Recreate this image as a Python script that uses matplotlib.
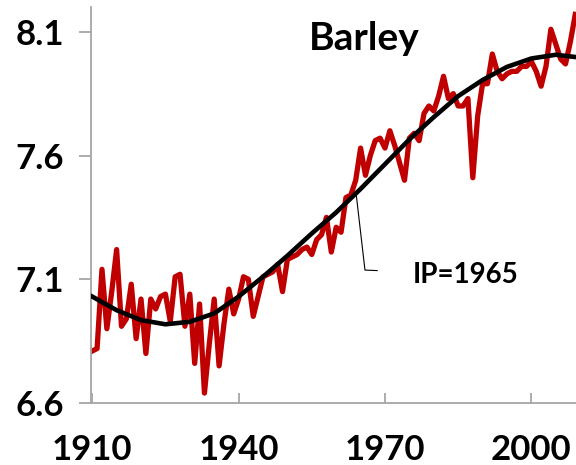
import numpy as np
import matplotlib
matplotlib.use("Agg")
import matplotlib.pyplot as plt

plt.rcParams["font.family"] = ["Lato", "DejaVu Sans"]

# yearly barley values, 1910-2009
years = list(range(1910, 2010))
values = [
    6.81, 6.82, 7.14, 6.90, 7.05, 7.22, 6.91, 6.94, 7.08, 6.86,
    7.02, 6.80, 7.02, 6.98, 7.03, 7.04, 6.93, 7.11, 7.12, 6.91,
    7.04, 6.76, 7.00, 6.64, 6.84, 7.02, 6.75, 6.92, 7.06, 6.96,
    7.02, 7.11, 7.10, 6.95, 7.03, 7.11, 7.12, 7.13, 7.16, 7.05,
    7.18, 7.19, 7.20, 7.22, 7.23, 7.20, 7.26, 7.28, 7.35, 7.21,
    7.31, 7.29, 7.43, 7.44, 7.50, 7.63, 7.52, 7.60, 7.66, 7.67,
    7.63, 7.70, 7.64, 7.57, 7.50, 7.67, 7.69, 7.66, 7.77, 7.80,
    7.78, 7.84, 7.92, 7.83, 7.85, 7.80, 7.80, 7.83, 7.51, 7.76,
    7.89, 7.89, 8.01, 7.94, 7.91, 7.93, 7.94, 7.94, 7.96, 7.96,
    7.98, 7.94, 7.88, 7.96, 8.11, 8.05, 7.99, 7.97, 8.06, 8.17,
]

# trend curve
trend_years = [1910, 1915, 1920, 1925, 1930, 1935, 1940, 1945, 1950, 1955, 1960,
               1965, 1970, 1975, 1980, 1985, 1990, 1995, 2000, 2005, 2009]
trend_values = [7.03, 6.975, 6.935, 6.918, 6.928, 6.962, 7.03, 7.11, 7.195, 7.285, 7.37,
                7.465, 7.565, 7.665, 7.755, 7.84, 7.905, 7.958, 7.992, 8.007, 7.998]

ip_year = 1965
title = "Barley"
x_ticks = [1910, 1940, 1970, 2000]
y_ticks = [6.6, 7.1, 7.6, 8.1]

fig = plt.figure(figsize=(5.76, 4.65), dpi=100)
ax = fig.add_axes([91 / 576, 1 - 403 / 465, 485 / 576, 396 / 465])

ax.plot(years, values, color="#C00000", linewidth=3.8, solid_joinstyle="round", zorder=2)
ax.plot(trend_years, trend_values, color="black", linewidth=3.3,
        solid_joinstyle="round", zorder=3)

# leader line from the inflection point to its label
ip_val = trend_values[trend_years.index(ip_year)]
ax.plot([ip_year - 0.85, ip_year + 0.9, ip_year + 3.4],
        [ip_val - 0.03, ip_val - 0.328, ip_val - 0.33],
        color="black", linewidth=0.8, zorder=1)

ax.set_xlim(1909.75, 2009.15)
ax.set_ylim(6.6, 8.2)
ax.set_xticks(x_ticks)
ax.set_yticks(y_ticks)
ax.set_yticklabels([f"{v:.1f}" for v in y_ticks])

for s in ["top", "right"]:
    ax.spines[s].set_visible(False)
for s in ["left", "bottom"]:
    ax.spines[s].set_color("#a6a6a6")
    ax.spines[s].set_linewidth(1.3)

ax.tick_params(axis="x", direction="in", length=7, width=1.3, color="#a6a6a6",
               pad=22, labelsize=25)
ax.tick_params(axis="y", direction="out", length=8.5, width=1.3, color="#a6a6a6",
               pad=11, labelsize=25)
for lab in ax.get_xticklabels() + ax.get_yticklabels():
    lab.set_fontweight("bold")

fig.text(364 / 576, 1 - 50 / 465, title, ha="center", va="baseline",
         fontsize=28, fontweight="bold")
fig.text(413 / 576, 1 - 283 / 465, f"IP={ip_year}", ha="left", va="baseline",
         fontsize=20, fontweight="bold")

fig.savefig("out.png", dpi=100)
